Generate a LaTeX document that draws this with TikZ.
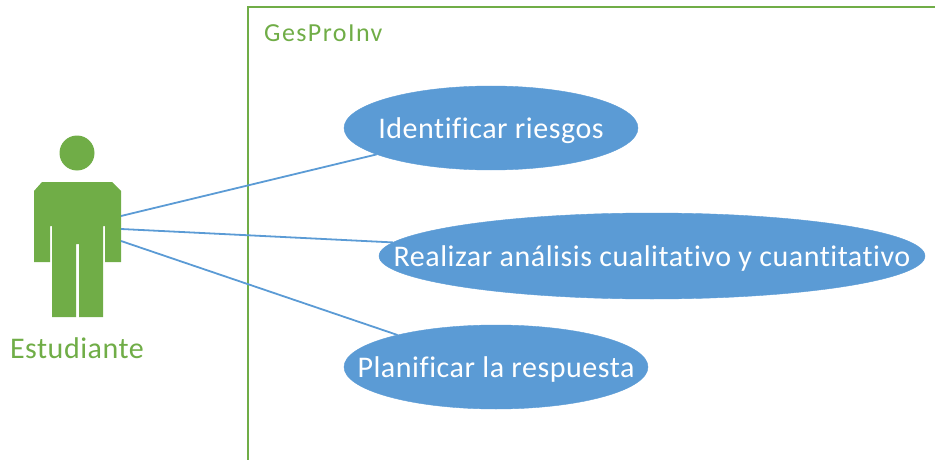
\documentclass[tikz,border=0pt]{standalone}
\usepackage{fontspec}
\setmainfont{Carlito}[Ligatures=NoCommon]
\newfontfamily\casefont{Carlito}[Ligatures=NoCommon,LetterSpace=1.8]
\newfontfamily\titlefont{Carlito}[Ligatures=NoCommon,LetterSpace=5.5]
\newfontfamily\actorfont{Carlito}[Ligatures=NoCommon,LetterSpace=1.8]
\usetikzlibrary{shapes.geometric}
\definecolor{grn}{HTML}{70AD47}
\definecolor{blu}{HTML}{5B9BD5}
\newcommand{\casetext}[1]{\raisebox{-10pt}[0pt][0pt]{\makebox[0pt]{\casefont\fontsize{30}{34}\selectfont #1}}}
\tikzset{
  usecase/.style={ellipse,fill=blu,draw=blu,inner sep=0pt,outer sep=0pt,text=white},
  link/.style={draw=blu,line width=1.8pt},
  greenlabel/.style={text=grn,inner sep=0pt},
}
\begin{document}
\begin{tikzpicture}[x=1pt,y=-1pt]
\useasboundingbox (0,0) rectangle (935,460);
\draw[grn,line width=2.2pt] (248,460) -- (248,7) -- (935,7);
\node[greenlabel,font=\titlefont\fontsize{26}{30}\selectfont,anchor=base west] (sys) at (264,42) {GesProInv};
\fill[grn] (77,153) circle[radius=17.5];
\fill[grn] (42,182) -- (112,182) -- (121,191) -- (121,262) -- (105,262) -- (105,226) -- (103,226) -- (103,317) -- (79,317) -- (79,244) -- (76,244) -- (76,317) -- (52,317) -- (52,226) -- (50,226) -- (50,262) -- (34,262) -- (34,191) -- cycle;
\coordinate (a1) at (121,216);
\coordinate (a2) at (121,229);
\coordinate (a3) at (121,241);
\node[greenlabel,font=\actorfont\fontsize{30}{34}\selectfont,anchor=base] (act) at (77,358) {Estudiante};
\node[usecase,minimum width=294pt,minimum height=84pt] (u1) at (491,128) {\casetext{Identificar riesgos}};
\node[usecase,minimum width=546pt,minimum height=86pt] (u2) at (652,256) {\casetext{Realizar análisis cualitativo y cuantitativo}};
\node[usecase,minimum width=304pt,minimum height=84pt] (u3) at (496,367) {\casetext{Planificar la respuesta}};
\draw[link] (a1) -- (u1.193.1);
\draw[link] (a2) -- (u2.177);
\draw[link] (a3) -- (u3.162);
\end{tikzpicture}
\end{document}
